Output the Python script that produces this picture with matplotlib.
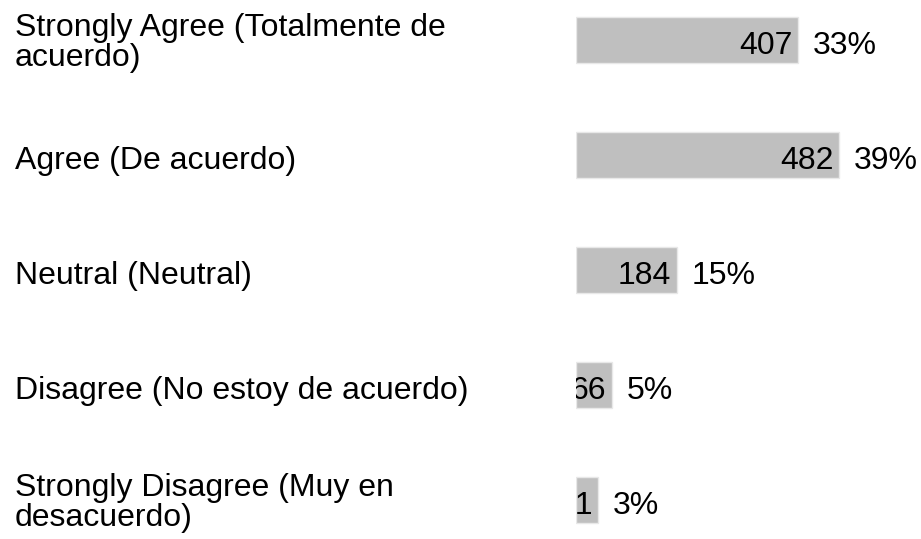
import matplotlib.pyplot as plt
import matplotlib.transforms as mtransforms

plt.rcParams["font.family"] = ["Liberation Sans", "DejaVu Sans"]

categories = [
    "Strongly Agree (Totalmente de\nacuerdo)",
    "Agree (De acuerdo)",
    "Neutral (Neutral)",
    "Disagree (No estoy de acuerdo)",
    "Strongly Disagree (Muy en\ndesacuerdo)",
]
counts = [407, 482, 184, 66, 41]
percents = ["33%", "39%", "15%", "5%", "3%"]

FONT_SIZE = 23
TEXT_DROP = -4.5  # points, text sits a little below bar centre

fig = plt.figure(figsize=(9.21, 5.39), dpi=100)
ax = fig.add_axes([576 / 921, 0, 328 / 921, 1])
ax.set_xlim(0, 600)
ax.set_ylim((539 - 40) / 115, -40 / 115)
ax.axis("off")

bars = ax.barh(range(len(counts)), counts, height=0.4,
               color="#bfbfbf", edgecolor="#e8e8e8", linewidth=1)

for i, (cat, n, pct, bar) in enumerate(zip(categories, counts, percents, bars)):
    drop = TEXT_DROP if "\n" not in cat else -2.5
    ax.annotate(cat, (0, i), xycoords=("figure pixels", "data"),
                xytext=(15 * 0.72, drop), textcoords="offset points",
                ha="left", va="center", fontsize=FONT_SIZE, linespacing=1.0,
                annotation_clip=False)
    t = ax.annotate(str(n), (n, i), xytext=(-4.3, TEXT_DROP), textcoords="offset points",
                    ha="right", va="center", fontsize=FONT_SIZE)
    t.set_clip_path(bar)
    ax.annotate(pct, (n, i), xytext=(10.5, TEXT_DROP), textcoords="offset points",
                ha="left", va="center", fontsize=FONT_SIZE, annotation_clip=False)

fig.savefig("out.png", dpi=100)
